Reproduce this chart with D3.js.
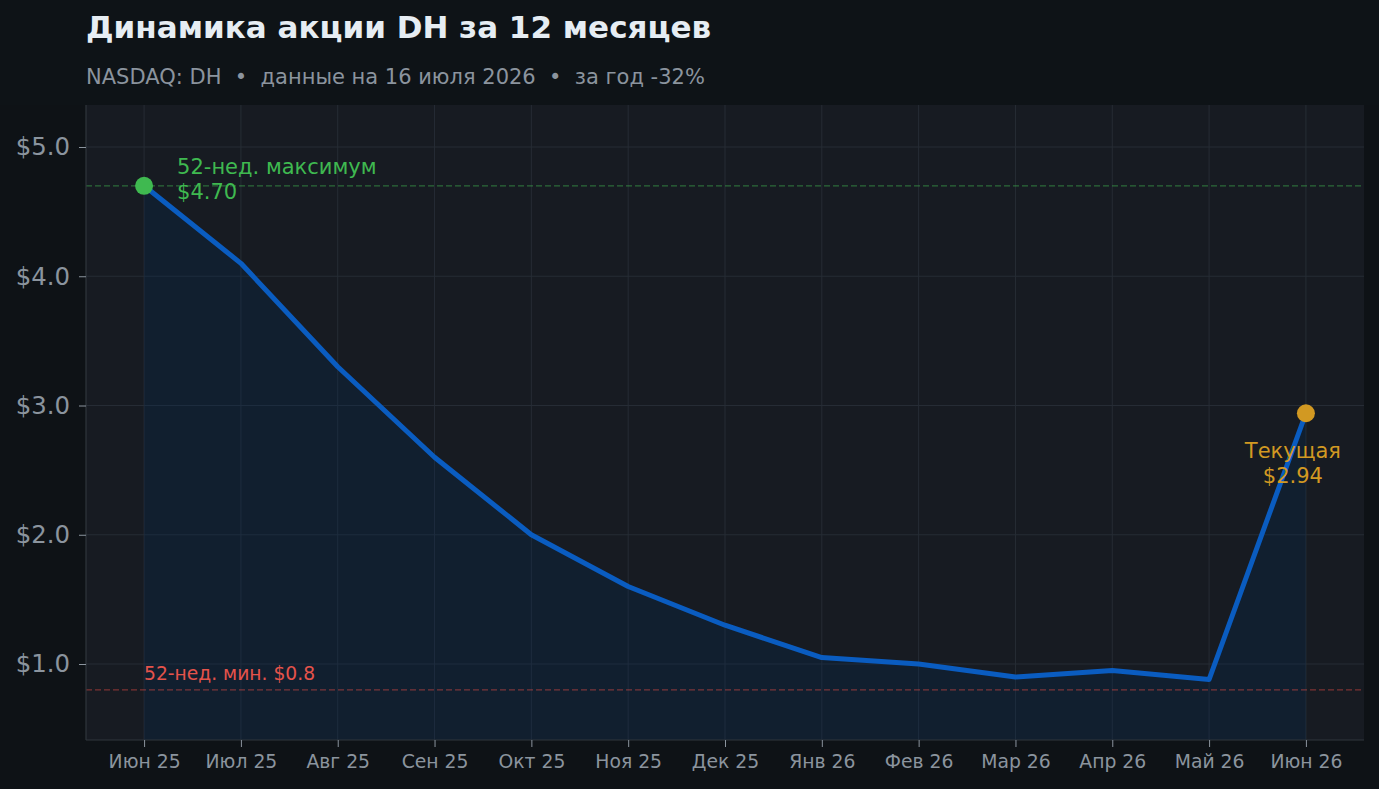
<!DOCTYPE html>
<html><head><meta charset="utf-8">
<script src="https://cdn.jsdelivr.net/npm/d3@7"></script>
<style>
html,body{margin:0;padding:0;background:#0e1216;}
svg{display:block;font-family:"DejaVu Sans",sans-serif;}
</style></head>
<body>
<svg id="c" width="1379" height="789"></svg>
<script>
const months = ["Июн 25","Июл 25","Авг 25","Сен 25","Окт 25","Ноя 25","Дек 25","Янв 26","Фев 26","Мар 26","Апр 26","Май 26","Июн 26"];
const prices = [4.70,4.10,3.30,2.60,2.00,1.60,1.30,1.05,1.00,0.90,0.95,0.88,2.94];
const yTicks = [1,2,3,4,5];
const high52 = 4.70;
const low52 = 0.80;
const current = 2.94;
const titleText = "Динамика акции DH за 12 месяцев";
const subtitleText = "NASDAQ: DH  •  данные на 16 июля 2026  •  за год -32%";

const svg = d3.select("#c");
const W = 1379, H = 789;
const L = 86, R = 1364, T = 105, B = 740;

svg.append("rect").attr("width",W).attr("height",H).attr("fill","#0e1216");
svg.append("rect").attr("width",W).attr("height",T).attr("fill","#0e1317");
svg.append("rect").attr("x",L).attr("y",T).attr("width",R-L).attr("height",B-T).attr("fill","#171b22");

const x = d3.scaleLinear().domain([-0.6,12.6]).range([L,R]);
const y = d3.scaleLinear().domain([0.412,5.325]).range([B,T]);

// grid
const g = svg.append("g");
g.selectAll(".gx").data(months).join("line")
  .attr("x1",(d,i)=>x(i)).attr("x2",(d,i)=>x(i)).attr("y1",T).attr("y2",B)
  .attr("stroke","#262c35").attr("stroke-width",1);
g.selectAll(".gy").data(yTicks).join("line")
  .attr("x1",L).attr("x2",R).attr("y1",d=>y(d)).attr("y2",d=>y(d))
  .attr("stroke","#262c35").attr("stroke-width",1);

// area
const area = d3.area().x((d,i)=>x(i)).y0(B).y1(d=>y(d));
svg.append("path").datum(prices).attr("d",area).attr("fill","rgb(0,45,95)").attr("fill-opacity",0.22);

// ref lines
svg.append("line").attr("x1",L).attr("x2",R).attr("y1",y(high52)).attr("y2",y(high52))
  .attr("stroke","#3fb950").attr("stroke-opacity",0.5).attr("stroke-width",1.3).attr("stroke-dasharray","6,3");
svg.append("line").attr("x1",L).attr("x2",R).attr("y1",y(low52)).attr("y2",y(low52))
  .attr("stroke","#f85149").attr("stroke-opacity",0.45).attr("stroke-width",1.3).attr("stroke-dasharray","6,3");

// line
const line = d3.line().x((d,i)=>x(i)).y(d=>y(d));
svg.append("path").datum(prices).attr("d",line).attr("fill","none")
  .attr("stroke","#0a5cc0").attr("stroke-width",5).attr("stroke-linejoin","round");

// markers
svg.append("circle").attr("cx",x(0)).attr("cy",y(high52)).attr("r",9).attr("fill","#3fb950");
svg.append("circle").attr("cx",x(12)).attr("cy",y(current)).attr("r",9).attr("fill","#d29922");

// spines
svg.append("line").attr("x1",L).attr("x2",L).attr("y1",T).attr("y2",B).attr("stroke","#30363d").attr("stroke-width",1.2);
svg.append("line").attr("x1",L).attr("x2",R).attr("y1",B).attr("y2",B).attr("stroke","#30363d").attr("stroke-width",1.2);

// axes
const yAxis = d3.axisLeft(y).tickValues(yTicks).tickFormat(d=>"$"+d3.format(".1f")(d)).tickSize(7).tickPadding(9);
const ya = svg.append("g").attr("transform",`translate(${L},0)`).call(yAxis);
ya.select(".domain").remove();
ya.selectAll("line").attr("stroke","#8b949e");
ya.selectAll("text").attr("fill","#8b949e").attr("font-size",24.4).attr("font-family","DejaVu Sans");

const xAxis = d3.axisBottom(x).tickValues(d3.range(months.length)).tickFormat(i=>months[i]).tickSize(7).tickPadding(8);
const xa = svg.append("g").attr("transform",`translate(0,${B})`).call(xAxis);
xa.select(".domain").remove();
xa.selectAll("line").attr("stroke","#8b949e");
xa.selectAll("text").attr("fill","#8b949e").attr("font-size",18.8).attr("font-family","DejaVu Sans");

// annotations
svg.append("text").attr("x",x(0)+33).attr("y",y(high52)-12).attr("fill","#3fb950").attr("font-size",21).text("52-нед. максимум");
svg.append("text").attr("x",x(0)+33).attr("y",y(high52)+13).attr("fill","#3fb950").attr("font-size",21).text("$"+high52.toFixed(2));
svg.append("text").attr("x",x(0)).attr("y",y(low52)-10).attr("fill","#e5534b").attr("font-size",18.7).text("52-нед. мин. $"+low52);
svg.append("text").attr("x",x(12)-13).attr("y",y(current)+45).attr("text-anchor","middle").attr("fill","#d29922").attr("font-size",21).text("Текущая");
svg.append("text").attr("x",x(12)-13).attr("y",y(current)+70).attr("text-anchor","middle").attr("fill","#d29922").attr("font-size",21).text("$"+current.toFixed(2));

// title
svg.append("text").attr("x",L).attr("y",38).attr("fill","#e6edf3").attr("font-size",31).attr("font-weight","bold").text(titleText);
svg.append("text").attr("x",L).attr("y",84).attr("fill","#8b949e").attr("font-size",21).attr("xml:space","preserve").style("white-space","pre").text(subtitleText);
</script>
</body></html>
